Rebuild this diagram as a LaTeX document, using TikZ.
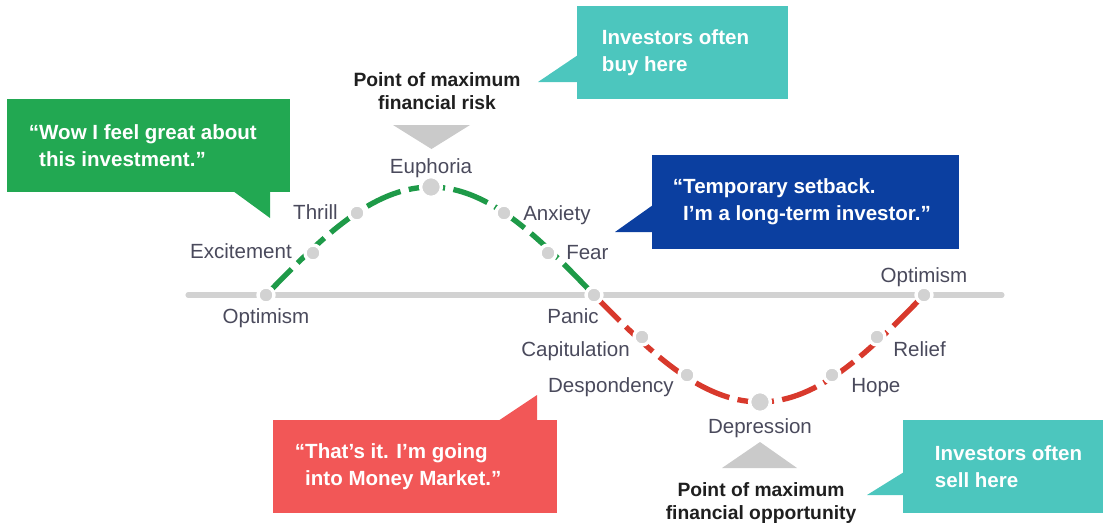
\documentclass[tikz,border=0pt]{standalone}
\usepackage{fontspec}
\setmainfont{Liberation Sans}
\usepackage{xcolor}

\definecolor{upgreen}{HTML}{1E9A48}
\definecolor{boxgreen}{HTML}{22A852}
\definecolor{downred}{HTML}{D8392C}
\definecolor{boxred}{HTML}{F25757}
\definecolor{boxteal}{HTML}{4CC6BE}
\definecolor{boxblue}{HTML}{0B3FA0}
\definecolor{dotgrey}{HTML}{D2D2D2}
\definecolor{labelgrey}{HTML}{4A4A5C}
\definecolor{pointergrey}{HTML}{CACACA}

\tikzset{
  stage/.style={font=\fontsize{14.6}{17}\selectfont, text=labelgrey, inner sep=0pt},
  dot/.style={circle, fill=dotgrey, draw=white, line width=2.4pt, minimum size=0.4cm, inner sep=0pt},
  bigdot/.style={dot, minimum size=0.52cm},
  axis/.style={draw=dotgrey, line width=3.6pt, line cap=round},
  upswing/.style={draw=upgreen, line width=3.8pt, dash pattern=on 26pt off 6pt},
  downswing/.style={draw=downred, line width=3.8pt, dash pattern=on 26pt off 6pt},
  callbox/.style={rectangle, inner sep=0pt, minimum height=2.325cm},
  quote/.style={font=\bfseries\fontsize{14.6}{19}\selectfont, text=white, align=left, inner sep=0pt},
  remark/.style={font=\bfseries\fontsize{13.7}{16}\selectfont, text=black!88, align=center, inner sep=0pt},
  pointer/.style={fill=pointergrey}
}

\begin{document}
\begin{tikzpicture}[x=0.025cm, y=-0.025cm]
    \useasboundingbox (0,0) rectangle (1107,529);
    % points of the cycle
    \coordinate (ax1) at (188,295);
    \coordinate (ax2) at (1002,295);
    \coordinate (optA) at (266,295);
    \coordinate (exc) at (313,253);
    \coordinate (thr) at (357,213);
    \coordinate (eup) at (431,187);
    \coordinate (anx) at (504,213);
    \coordinate (fea) at (548,253);
    \coordinate (pan) at (594,295);
    \coordinate (cap) at (642,337);
    \coordinate (des) at (687,375);
    \coordinate (dep) at (760,402);
    \coordinate (hop) at (832,375);
    \coordinate (rel) at (877,337);
    \coordinate (optB) at (924,295);
    %%
    \draw[axis] (ax1) -- (ax2);
    \draw[upswing] (optA) sin (eup) cos (pan);
    \draw[downswing] (pan) sin (dep) cos (optB);
    \foreach \p in {optA,exc,thr,anx,fea,pan,cap,des,hop,rel,optB}
      \node[dot] (\p-dot) at (\p) {};
    \node[bigdot] (eup-dot) at (eup) {};
    \node[bigdot] (dep-dot) at (dep) {};
    %% stage names
    \node[stage, anchor=base] (optA-lbl) at (266,323) {Optimism};
    \node[stage, anchor=base east] (exc-lbl) at (292,258) {Excitement};
    \node[stage, anchor=base east] (thr-lbl) at (338,219) {Thrill};
    \node[stage, anchor=base] (eup-lbl) at (431,173) {Euphoria};
    \node[stage, anchor=base west] (anx-lbl) at (523,220) {Anxiety};
    \node[stage, anchor=base west] (fea-lbl) at (566,259) {Fear};
    \node[stage, anchor=base east] (pan-lbl) at (599,323) {Panic};
    \node[stage, anchor=base east] (cap-lbl) at (630,356) {Capitulation};
    \node[stage, anchor=base east] (des-lbl) at (674,392) {Despondency};
    \node[stage, anchor=base] (dep-lbl) at (760,433) {Depression};
    \node[stage, anchor=base west] (hop-lbl) at (851,392) {Hope};
    \node[stage, anchor=base west] (rel-lbl) at (893,356) {Relief};
    \node[stage, anchor=base] (optB-lbl) at (924,282) {Optimism};
    %% risk and opportunity
    \fill[pointer] (393,125) -- (470,125) -- (431.5,149) -- cycle;
    \node[remark] (risk) at (437,91) {Point of maximum\\financial risk};
    \fill[pointer] (722,468) -- (797,468) -- (760,442) -- cycle;
    \node[remark] (chance) at (761,503) {Point of maximum\\financial opportunity};
    %% callouts
    \node[callbox, fill=boxgreen, minimum width=7.075cm] (wow) at (148.5,145.5) {};
    \fill[boxgreen] (233,191) -- (270,191) -- (270,218) -- cycle;
    \node[quote, anchor=west] at ([xshift=0.55cm]wow.west) {“Wow I feel great about\\\hphantom{“}this investment.”};
    %%
    \node[callbox, fill=boxteal, minimum width=5.275cm] (buy) at (682.5,52.5) {};
    \fill[boxteal] (578,55) -- (538,82) -- (578,82) -- cycle;
    \node[quote, anchor=west] at ([xshift=0.625cm]buy.west) {Investors often\\buy here};
    %%
    \node[callbox, fill=boxblue, minimum width=7.675cm, minimum height=2.35cm] (setback) at (805.5,202) {};
    \fill[boxblue] (653,205) -- (615,232) -- (653,232) -- cycle;
    \node[quote, anchor=west] at ([xshift=0.525cm]setback.west) {“Temporary setback.\\\hphantom{“}I’m a long-term investor.”};
    %%
    \node[callbox, fill=boxred, minimum width=7.1cm] (money) at (415,466.5) {};
    \fill[boxred] (498,421) -- (537,395) -- (537,421) -- cycle;
    \node[quote, anchor=west] at ([xshift=0.55cm]money.west) {“That’s it. I’m going\\\hphantom{“}into Money Market.”};
    %%
    \node[callbox, fill=boxteal, minimum width=5cm] (sell) at (1003,466.5) {};
    \fill[boxteal] (904,472) -- (867,495) -- (904,495) -- cycle;
    \node[quote, anchor=west] at ([xshift=0.8cm]sell.west) {Investors often\\sell here};
\end{tikzpicture}
\end{document}
